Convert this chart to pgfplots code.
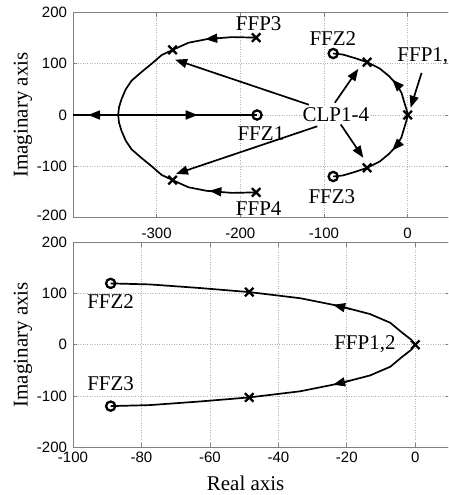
\documentclass[border=0pt]{standalone}
\usepackage{fontspec}
\setmainfont{Liberation Serif}
\setsansfont{Liberation Sans}
\usepackage{pgfplots}
\usepackage{pgfplotstable}
\pgfplotsset{compat=1.18}
\usetikzlibrary{arrows.meta}

% branch data of the two root loci (upper half; lower half mirrored)
\pgfplotstableread{
x y
-181 151
-210 152
-240 148
-262 141
-281 127
-294 117
-306 100
-318 84
-330 67
-337 50
-342 31
-345 15
-346 0
-345 -15
-342 -31
-337 -50
-330 -67
-318 -84
-306 -100
-294 -117
-281 -127
-262 -141
-240 -148
-210 -152
-181 -151
}\outerloop
\pgfplotstableread{
x y
-89 120
-77.5 118
-63 111
-48.5 103
-33.6 91
-22.4 76
-13.2 60
-7.3 43
-3.9 24
-1.2 10
0 0
-1.2 -10
-3.9 -24
-7.3 -43
-13.2 -60
-22.4 -76
-33.6 -91
-48.5 -103
-63 -111
-77.5 -118
-89 -120
}\innerloop

\tikzset{lbl/.style={font=\fontsize{21}{21}\selectfont, inner sep=0pt}}

\pgfplotsset{
  rlaxis/.style={
    scale only axis,
    width=376.5pt,
    clip=false,
    axis line style={draw=black!50, line width=0.8pt},
    tick style={draw=black!50, line width=0.7pt},
    major tick length=4pt,
    tick align=inside,
    xtick pos=both, ytick pos=both,
    grid=major,
    major grid style={dotted, draw=black!30, line width=0.7pt},
    ticklabel style={font=\sffamily\fontsize{15}{15}\selectfont},
    /pgf/number format/assume math mode=true,
    yticklabel style={xshift=-2.5pt},
    ymin=-200, ymax=200, ytick={-200,-100,0,100,200},
    ylabel={Imaginary axis},
    label style={font=\fontsize{21}{21}\selectfont},
    y label style={at={(axis description cs:-0.133,0.5)}, anchor=center},
  },
  locus/.style={black, line width=1.7pt, no markers},
  dir/.style={black, line width=1.7pt, no markers, -{Triangle[length=12pt,width=9pt]}},
  poles/.style={only marks, mark=x, mark size=6pt, line width=2.3pt, black},
  zeros/.style={only marks, mark=o, mark size=4.6pt, line width=2.3pt, black},
}

\begin{document}
\begin{tikzpicture}
\useasboundingbox (0,0) rectangle (448pt,-495pt);
\clip (0,0) rectangle (448pt,-495pt);

% full system: all closed-loop branches
\begin{axis}[rlaxis,
  at={(73pt,-12.5pt)}, anchor=north west, height=205pt,
  xmin=-400, xmax=50, xtick={-300,-200,-100,0},
  xticklabel style={yshift=-6.5pt},
  yticklabels={\raisebox{4pt}{-200},-100,0,100,200}]
  \addplot[locus] table {\outerloop};
  \addplot[locus] coordinates {(-400,0) (-180,0)};
  \addplot[locus] table {\innerloop};
  % direction of increasing gain
  \addplot[dir] coordinates {(-365,0) (-382,0)};
  \addplot[dir] coordinates {(-266,0) (-251,0)};
  \addplot[dir] coordinates {(-226,150) (-242,148)};
  \addplot[dir] coordinates {(-222,-150) (-237,-148)};
  \addplot[dir] coordinates {(-13.2,60) (-18.5,69.2)};
  \addplot[dir] coordinates {(-13.2,-60) (-18.5,-69.2)};
  % pointers from the labels
  \addplot[dir] coordinates {(-118,20) (-278,108)};
  \addplot[dir] coordinates {(-108,-22) (-277,-115)};
  \addplot[dir] coordinates {(-87,24) (-59,90)};
  \addplot[dir] coordinates {(-80,-18.5) (-53,-83.5)};
  \addplot[dir] coordinates {(16.6,82) (3.5,14)};
  % open-loop poles and zeros, closed-loop poles
  \addplot[poles] coordinates {(-181,151) (-181,-151) (-281,127) (-281,-127)
    (-48.5,103) (-48.5,-103) (0,0)};
  \addplot[zeros] coordinates {(-180,0) (-89,120) (-89,-120)};
  \node[lbl] at (axis cs:-178,178.5) {FFP3};
  \node[lbl] at (axis cs:-89.4,149) {FFZ2};
  \node[lbl, anchor=west] at (axis cs:-12.5,115) {FFP1,};
  \node[lbl, fill=white, inner sep=1pt] at (axis cs:-85.8,0) {CLP1-4};
  \node[lbl] at (axis cs:-175.4,-36) {FFZ1};
  \node[lbl] at (axis cs:-90.6,-159) {FFZ3};
  \node[lbl] at (axis cs:-178,-182) {FFP4};
\end{axis}

% detail of the branches near the origin
\begin{axis}[rlaxis,
  at={(73pt,-242.5pt)}, anchor=north west, height=204.5pt,
  xmin=-100, xmax=10, xtick={-100,-80,-60,-40,-20,0},
  xticklabel style={yshift=-1.5pt},
  yticklabels={-200,-100,0,100,\raisebox{-7pt}{200}},
  xlabel={Real axis},
  x label style={at={(axis description cs:0.4585,-0.176)}, anchor=center}]
  \addplot[locus] table {\innerloop};
  \addplot[dir] coordinates {(-19,70) (-24,78.1)};
  \addplot[dir] coordinates {(-19,-70) (-24,-78.1)};
  \addplot[poles] coordinates {(-48.5,103) (-48.5,-103) (0,0)};
  \addplot[zeros] coordinates {(-89,120) (-89,-120)};
  \node[lbl] at (axis cs:-89,85) {FFZ2};
  \node[lbl] at (axis cs:-89,-77) {FFZ3};
  \node[lbl] at (axis cs:-14.7,2) {FFP1,2};
\end{axis}
\end{tikzpicture}
\end{document}
